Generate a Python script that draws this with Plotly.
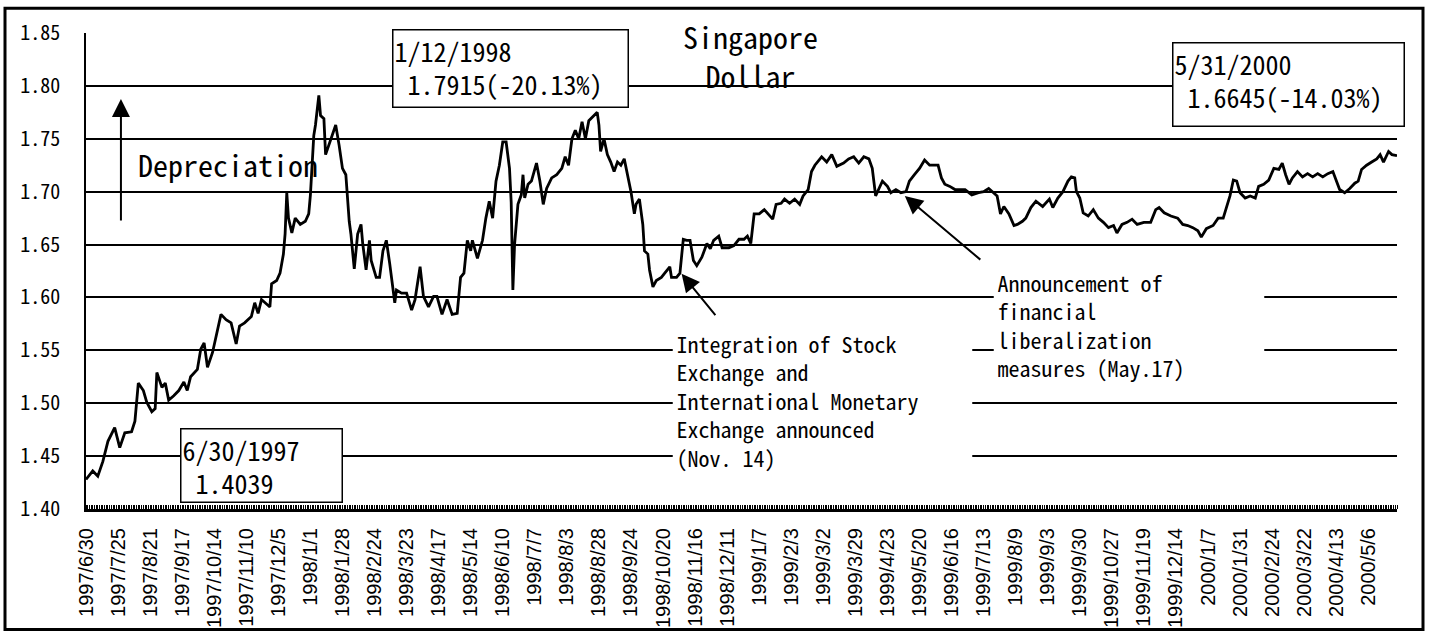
import plotly.graph_objects as go

# Singapore dollar per US dollar, business-day index from 1997/6/30
day = [0, 4, 7, 10, 13, 17, 20, 23, 27, 29, 31, 34, 36, 39, 41, 42, 45, 47, 49, 52,
       55, 58, 60, 62, 66, 68, 70, 72, 75, 78, 80, 83, 86, 89, 91, 94, 98, 100, 102, 104,
       109, 110, 113, 115, 117, 118, 119, 120, 122, 124, 127, 130, 132, 133, 135, 136, 137, 138, 139, 141,
       142, 144, 146, 148, 150, 152, 154, 155, 156, 157, 159, 161, 163, 164, 166, 168, 169, 172, 174, 176,
       178, 180, 183, 184, 187, 190, 193, 195, 198, 200, 203, 206, 208, 211, 214, 217, 220, 222, 224, 226,
       228, 229, 232, 235, 237, 239, 241, 243, 245, 247, 249, 251, 252, 253, 254, 256, 258, 259, 260, 262,
       264, 267, 269, 271, 273, 276, 279, 282, 284, 286, 288, 290, 292, 294, 296, 298, 301, 303, 304, 305,
       307, 309, 311, 313, 315, 317, 319, 321, 323, 325, 326, 328, 330, 331, 333, 334, 336, 338, 341, 343,
       346, 347, 350, 352, 354, 356, 358, 360, 362, 365, 368, 370, 372, 375, 377, 381, 384, 387, 390, 392,
       394, 396, 399, 402, 404, 407, 409, 412, 414, 417, 420, 423, 425, 428, 430, 432, 436, 439, 442, 445,
       449, 452, 455, 458, 461, 464, 466, 467, 468, 470, 472, 475, 477, 480, 483, 486, 488, 491, 494, 497,
       500, 503, 505, 507, 509, 512, 515, 521, 525, 529, 532, 535, 538, 540, 542, 544, 547, 550, 552, 555,
       557, 560, 563, 567, 571, 573, 576, 579, 582, 584, 586, 587, 589, 591, 594, 597, 600, 603, 606, 609,
       611, 614, 617, 620, 623, 627, 631, 634, 636, 639, 643, 647, 650, 653, 656, 659, 661, 664, 668, 671,
       674, 676, 678, 680, 682, 684, 687, 690, 693, 695, 698, 701, 704, 707, 709, 711, 713, 715, 718, 721,
       724, 727, 730, 733, 736, 739, 741, 743, 746, 749, 752, 754, 756, 759, 762, 765, 767, 769, 772, 774,
       777]
rate = [1.428, 1.436, 1.431, 1.445, 1.464, 1.477, 1.458, 1.472, 1.473, 1.483, 1.519, 1.512, 1.501, 1.492, 1.495, 1.529, 1.515, 1.519, 1.503, 1.507,
        1.512, 1.520, 1.512, 1.525, 1.532, 1.551, 1.557, 1.534, 1.548, 1.570, 1.584, 1.579, 1.576, 1.556, 1.573, 1.576, 1.582, 1.595, 1.585, 1.598,
        1.591, 1.613, 1.616, 1.623, 1.641, 1.660, 1.699, 1.675, 1.661, 1.675, 1.669, 1.672, 1.679, 1.697, 1.753, 1.763, 1.778, 1.791, 1.772, 1.769,
        1.735, 1.744, 1.753, 1.763, 1.744, 1.722, 1.716, 1.694, 1.672, 1.660, 1.627, 1.660, 1.669, 1.651, 1.626, 1.654, 1.635, 1.619, 1.619, 1.644,
        1.654, 1.632, 1.595, 1.607, 1.604, 1.604, 1.588, 1.598, 1.629, 1.601, 1.591, 1.601, 1.601, 1.584, 1.598, 1.584, 1.585, 1.619, 1.623, 1.654,
        1.644, 1.654, 1.637, 1.654, 1.675, 1.691, 1.675, 1.710, 1.725, 1.747, 1.747, 1.722, 1.690, 1.607, 1.650, 1.688, 1.697, 1.716, 1.694, 1.707,
        1.710, 1.727, 1.710, 1.688, 1.703, 1.713, 1.716, 1.722, 1.733, 1.725, 1.750, 1.758, 1.750, 1.766, 1.750, 1.767, 1.772, 1.775, 1.763, 1.738,
        1.750, 1.735, 1.728, 1.719, 1.728, 1.725, 1.731, 1.716, 1.700, 1.679, 1.688, 1.693, 1.669, 1.644, 1.641, 1.626, 1.610, 1.616, 1.619, 1.623,
        1.629, 1.619, 1.619, 1.623, 1.655, 1.654, 1.654, 1.635, 1.630, 1.638, 1.651, 1.646, 1.654, 1.658, 1.647, 1.647, 1.649, 1.655, 1.655, 1.658,
        1.651, 1.679, 1.679, 1.683, 1.679, 1.674, 1.688, 1.689, 1.693, 1.689, 1.693, 1.688, 1.696, 1.702, 1.719, 1.725, 1.733, 1.728, 1.735, 1.724,
        1.727, 1.731, 1.733, 1.727, 1.733, 1.731, 1.722, 1.710, 1.696, 1.703, 1.710, 1.705, 1.699, 1.702, 1.699, 1.700, 1.710, 1.716, 1.722, 1.730,
        1.725, 1.725, 1.725, 1.713, 1.707, 1.705, 1.702, 1.702, 1.697, 1.699, 1.700, 1.703, 1.699, 1.696, 1.679, 1.686, 1.679, 1.668, 1.669, 1.672,
        1.675, 1.685, 1.691, 1.686, 1.693, 1.685, 1.694, 1.700, 1.710, 1.714, 1.713, 1.700, 1.694, 1.680, 1.677, 1.683, 1.675, 1.671, 1.666, 1.668,
        1.661, 1.669, 1.671, 1.674, 1.669, 1.671, 1.671, 1.683, 1.685, 1.680, 1.677, 1.675, 1.669, 1.668, 1.666, 1.663, 1.657, 1.665, 1.668, 1.675,
        1.675, 1.686, 1.696, 1.711, 1.710, 1.699, 1.694, 1.696, 1.694, 1.705, 1.707, 1.711, 1.722, 1.721, 1.727, 1.716, 1.707, 1.713, 1.719, 1.714,
        1.717, 1.714, 1.717, 1.714, 1.717, 1.719, 1.710, 1.702, 1.699, 1.703, 1.708, 1.710, 1.721, 1.725, 1.728, 1.731, 1.735, 1.728, 1.738, 1.735,
        1.734]

tick_labels = ["1997/6/30", "1997/7/25", "1997/8/21", "1997/9/17", "1997/10/14", "1997/11/10", "1997/12/5",
               "1998/1/1", "1998/1/28", "1998/2/24", "1998/3/23", "1998/4/17", "1998/5/14", "1998/6/10",
               "1998/7/7", "1998/8/3", "1998/8/28", "1998/9/24", "1998/10/20", "1998/11/16", "1998/12/11",
               "1999/1/7", "1999/2/3", "1999/3/2", "1999/3/29", "1999/4/23", "1999/5/20", "1999/6/16",
               "1999/7/13", "1999/8/9", "1999/9/3", "1999/9/30", "1999/10/27", "1999/11/19", "1999/12/14",
               "2000/1/7", "2000/1/31", "2000/2/24", "2000/3/22", "2000/4/13", "2000/5/6"]
tick_step = 19
last_day = 777

W, H = 1429, 640
L, R, T, B = 86, 1397, 33, 515
MONO = "Noto Sans Mono CJK JP, DejaVu Sans Mono, monospace"


def px(x):
    return (x - L) / (R - L)


def py(y):
    return (B - y) / (B - T)


fig = go.Figure(go.Scatter(x=day, y=rate, mode="lines",
                           line=dict(color="black", width=2.8), hoverinfo="skip"))

notes = []


def box(x, y, w, h, text, size, border=True, pad=1):
    notes.append(dict(xref="paper", yref="paper", x=px(x), y=py(y), xanchor="left", yanchor="top",
                      text=text, showarrow=False, align="left", valign="top", width=w, height=h,
                      bgcolor="white", bordercolor="black" if border else "rgba(0,0,0,0)",
                      borderwidth=1.5, borderpad=pad, font=dict(family=MONO, size=size, color="black")))


box(392, 29, 232, 74, "1/12/1998<br> 1.7915(-20.13%)", 26)
box(1172, 42, 228, 80, "5/31/2000<br> 1.6645(-14.03%)", 26)
box(180, 433, 158, 70, "6/30/1997<br> 1.4039", 26)
box(672, 326, 292, None, "Integration of Stock<br>Exchange and<br>International Monetary<br>"
    "Exchange announced<br>(Nov. 14)", 22, border=False, pad=3)
box(993, 264, 263, None, "Announcement of<br>financial<br>liberalization<br>measures (May.17)", 22,
    border=False, pad=3)

notes.append(dict(xref="paper", yref="paper", x=px(750), y=py(56), xanchor="center", yanchor="middle",
                  text="Singapore<br>Dollar", showarrow=False, align="center",
                  font=dict(family=MONO, size=30, color="black")))
notes.append(dict(xref="paper", yref="paper", x=px(136), y=py(166), xanchor="left", yanchor="middle",
                  text="Depreciation", showarrow=False, font=dict(family=MONO, size=30, color="black")))

# arrows
for x, y, ax, ay in [(20.7, 1.7875, 0, 123), (353, 1.6225, 35, 43), (485.3, 1.696, 77, 65)]:
    notes.append(dict(x=x, y=y, xref="x", yref="y", ax=ax, ay=ay, axref="pixel", ayref="pixel",
                      text="", showarrow=True, arrowhead=2, arrowsize=1.8, arrowwidth=2, arrowcolor="black"))

fig.update_layout(
    width=W, height=H,
    margin=dict(l=L, r=W - R, t=T, b=H - B, pad=0),
    paper_bgcolor="white", plot_bgcolor="white",
    showlegend=False,
    annotations=notes,
    shapes=[dict(type="rect", xref="paper", yref="paper", x0=px(5), x1=px(1423), y0=py(637), y1=py(8),
                 line=dict(color="black", width=3), layer="below")],
    xaxis=dict(range=[0, last_day], tickmode="array",
               tickvals=[i * tick_step for i in range(len(tick_labels))], ticktext=tick_labels,
               tickangle=-90, tickfont=dict(family="Liberation Sans, Arial", size=20, color="black"),
               showgrid=False, zeroline=False, showline=True, linecolor="black", linewidth=3,
               ticks="", ticklabelstandoff=8,
               minor=dict(tickmode="linear", tick0=0, dtick=1, ticks="inside", ticklen=4,
                          tickcolor="black", tickwidth=1)),
    yaxis=dict(range=[1.40, 1.85], dtick=0.05, tick0=1.40, tickformat=".2f",
               tickfont=dict(family=MONO, size=20, color="black"),
               showgrid=True, gridcolor="black", gridwidth=1.5, zeroline=False,
               showline=True, linecolor="black", linewidth=1.5, ticks="", ticklabelstandoff=20),
)

fig.write_html("out.html", config={"displayModeBar": False},
               post_script="document.body.style.margin='0';")
